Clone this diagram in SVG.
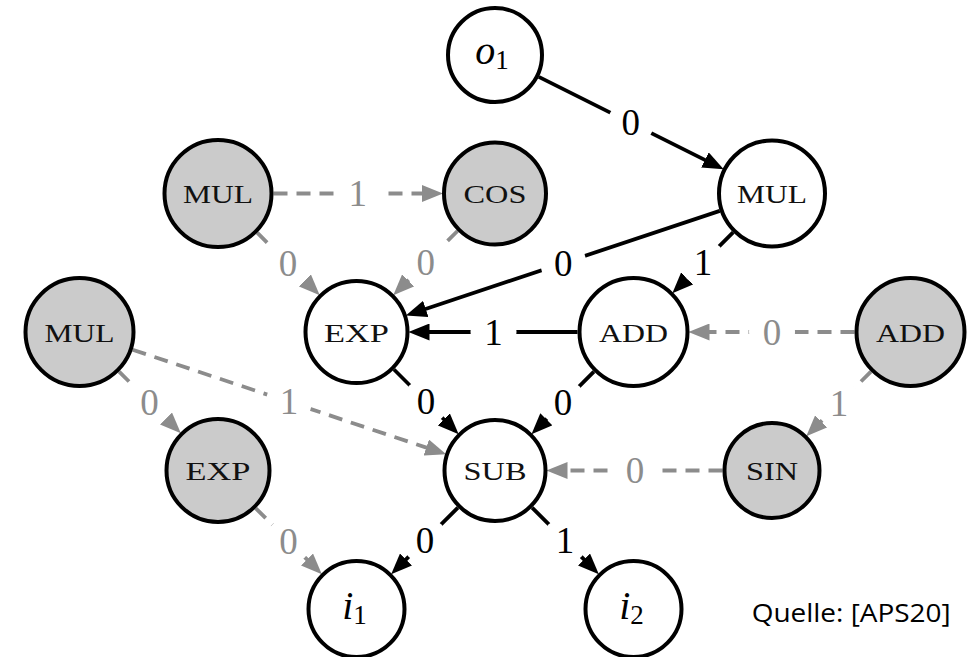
<svg xmlns="http://www.w3.org/2000/svg" width="976" height="657" viewBox="0 0 976 657">
<style>
  .node circle { stroke: #000; stroke-width: 4; }
  .w circle { fill: #fff; }
  .g circle { fill: #cbcbcb; }
  .op { font-family: "Liberation Serif", "DejaVu Serif", serif; font-size: 26px; text-anchor: middle; fill: #111; }
  .var { font-family: "Liberation Serif", "DejaVu Serif", serif; text-anchor: middle; fill: #000; }
  .e { fill: none; stroke-width: 3.8; }
  .eb { stroke: #000; marker-end: url(#ab); }
  .eg { stroke: #8c8c8c; stroke-dasharray: 14 9; marker-end: url(#ag); }
  .lb { font-family: "Liberation Serif", "DejaVu Serif", serif; font-size: 37px; text-anchor: middle; fill: #000; }
  .lg { font-family: "Liberation Serif", "DejaVu Serif", serif; font-size: 37px; text-anchor: middle; fill: #8c8c8c; }
</style>
<defs>
  <marker id="ab" markerUnits="userSpaceOnUse" markerWidth="21" markerHeight="17" refX="1" refY="8.5" orient="auto">
    <path d="M0,0 L21,8.5 L0,17 z" fill="#000"/>
  </marker>
  <marker id="ag" markerUnits="userSpaceOnUse" markerWidth="21" markerHeight="17" refX="1" refY="8.5" orient="auto">
    <path d="M0,0 L21,8.5 L0,17 z" fill="#8c8c8c"/>
  </marker>
  <mask id="gaps" maskUnits="userSpaceOnUse" x="0" y="0" width="976" height="657">
    <rect x="0" y="0" width="976" height="657" fill="#fff"/>
    <g fill="#000">
      <circle cx="630.8" cy="122.9" r="23"/>
      <circle cx="563.3" cy="263.1" r="23"/>
      <circle cx="703.1" cy="262.4" r="23"/>
      <circle cx="493.5" cy="332" r="23"/>
      <circle cx="425.9" cy="401.4" r="23"/>
      <circle cx="563.0" cy="402.5" r="23"/>
      <circle cx="424.9" cy="540.6" r="23"/>
      <circle cx="565.1" cy="540.6" r="23"/>
      <circle cx="357.8" cy="193.5" r="23"/>
      <circle cx="288.1" cy="263.6" r="23"/>
      <circle cx="425.8" cy="262.8" r="23"/>
      <circle cx="772" cy="332" r="23"/>
      <circle cx="839.0" cy="403.6" r="23"/>
      <circle cx="635" cy="470.5" r="23"/>
      <circle cx="149.6" cy="402.1" r="23"/>
      <circle cx="288.9" cy="401.8" r="23"/>
      <circle cx="288.5" cy="541.0" r="23"/>
    </g>
  </mask>
</defs>
<rect x="0" y="0" width="976" height="657" fill="#fff"/>

<g id="connectors">
  <g mask="url(#gaps)">
    <line class="e eb" x1="538.8" y1="76.9" x2="705.8" y2="160.4"/>
    <line class="e eb" x1="719.8" y1="210.9" x2="424.8" y2="309.2"/>
    <line class="e eb" x1="733.1" y1="232.4" x2="686.5" y2="279.0"/>
    <line class="e eb" x1="577.5" y1="332" x2="428.5" y2="332"/>
    <line class="e eb" x1="394.0" y1="369.5" x2="444.5" y2="420.0"/>
    <line class="e eb" x1="593.9" y1="371.6" x2="545.6" y2="420.0"/>
    <line class="e eb" x1="457.9" y1="507.6" x2="405.3" y2="560.2"/>
    <line class="e eb" x1="532.1" y1="507.6" x2="584.7" y2="560.2"/>
    <line class="e eg" x1="273.5" y1="193.5" x2="423" y2="193.5"/>
    <line class="e eg" x1="257.2" y1="232.7" x2="305.6" y2="281.1"/>
    <line class="e eg" x1="457.5" y1="231.0" x2="407.4" y2="281.1"/>
    <line class="e eg" x1="854.5" y1="332" x2="708.5" y2="332"/>
    <line class="e eg" x1="870.9" y1="371.6" x2="820.4" y2="422.1"/>
    <line class="e eg" x1="722.5" y1="470.5" x2="566.5" y2="470.5"/>
    <line class="e eg" x1="119.1" y1="371.6" x2="166.7" y2="419.2"/>
    <line class="e eg" x1="132.6" y1="349.7" x2="427.2" y2="447.9"/>
    <line class="e eg" x1="255.8" y1="508.3" x2="307.7" y2="560.2"/>
  </g>
  <g id="edge-labels">
    <text class="lb" x="630.8" y="135.4">0</text>
    <text class="lb" x="563.3" y="275.6">0</text>
    <text class="lb" x="703.1" y="274.9">1</text>
    <text class="lb" x="493.5" y="344.5">1</text>
    <text class="lb" x="425.9" y="413.9">0</text>
    <text class="lb" x="563.0" y="415.0">0</text>
    <text class="lb" x="424.9" y="553.1">0</text>
    <text class="lb" x="565.1" y="553.1">1</text>
    <text class="lg" x="357.8" y="206.0">1</text>
    <text class="lg" x="288.1" y="276.1">0</text>
    <text class="lg" x="425.8" y="275.3">0</text>
    <text class="lg" x="772" y="344.5">0</text>
    <text class="lg" x="839.0" y="416.1">1</text>
    <text class="lg" x="635" y="483.0">0</text>
    <text class="lg" x="149.6" y="414.6">0</text>
    <text class="lg" x="288.9" y="414.3">1</text>
    <text class="lg" x="288.5" y="553.5">0</text>
  </g>
</g>

<g id="o1" class="node w">
  <circle cx="495" cy="55" r="47"/>
  <text class="var" x="492" y="64"><tspan font-style="italic" font-size="40">o</tspan><tspan font-size="27" dy="4.5">1</tspan></text>
</g>
<g id="mul-w" class="node w">
  <circle cx="772" cy="193.5" r="53"/>
  <text class="op" x="772" y="203" textLength="70" lengthAdjust="spacingAndGlyphs">MUL</text>
</g>
<g id="mul-g1" class="node g">
  <circle cx="218" cy="193.5" r="53.5"/>
  <text class="op" x="218" y="203" textLength="70" lengthAdjust="spacingAndGlyphs">MUL</text>
</g>
<g id="cos" class="node g">
  <circle cx="495" cy="193.5" r="51"/>
  <text class="op" x="495" y="203" textLength="63" lengthAdjust="spacingAndGlyphs">COS</text>
</g>
<g id="mul-g2" class="node g">
  <circle cx="79.5" cy="332" r="54"/>
  <text class="op" x="79.5" y="341.5" textLength="70" lengthAdjust="spacingAndGlyphs">MUL</text>
</g>
<g id="exp-w" class="node w">
  <circle cx="356.5" cy="332" r="51"/>
  <text class="op" x="356.5" y="341.5" textLength="65" lengthAdjust="spacingAndGlyphs">EXP</text>
</g>
<g id="add-w" class="node w">
  <circle cx="633.5" cy="332" r="54"/>
  <text class="op" x="633.5" y="341.5" textLength="69" lengthAdjust="spacingAndGlyphs">ADD</text>
</g>
<g id="add-g" class="node g">
  <circle cx="910.5" cy="332" r="54"/>
  <text class="op" x="910.5" y="341.5" textLength="69" lengthAdjust="spacingAndGlyphs">ADD</text>
</g>
<g id="exp-g" class="node g">
  <circle cx="218" cy="470.5" r="51.5"/>
  <text class="op" x="218" y="480" textLength="65" lengthAdjust="spacingAndGlyphs">EXP</text>
</g>
<g id="sub" class="node w">
  <circle cx="495" cy="470.5" r="50.5"/>
  <text class="op" x="495" y="480" textLength="63" lengthAdjust="spacingAndGlyphs">SUB</text>
</g>
<g id="sin" class="node g">
  <circle cx="772" cy="470.5" r="47.5"/>
  <text class="op" x="772" y="480" textLength="52" lengthAdjust="spacingAndGlyphs">SIN</text>
</g>
<g id="i1" class="node w">
  <circle cx="356.5" cy="609" r="48"/>
  <text class="var" x="354.5" y="618.5"><tspan font-style="italic" font-size="40">i</tspan><tspan font-size="27" dy="5">1</tspan></text>
</g>
<g id="i2" class="node w">
  <circle cx="633.5" cy="609" r="48"/>
  <text class="var" x="631.5" y="618.5"><tspan font-style="italic" font-size="40">i</tspan><tspan font-size="27" dy="5">2</tspan></text>
</g>

<text x="751.7" y="621.7" font-family="'Open Sans', 'Liberation Sans', sans-serif" font-size="25" fill="#000" textLength="199" lengthAdjust="spacingAndGlyphs">Quelle: [APS20]</text>
</svg>
